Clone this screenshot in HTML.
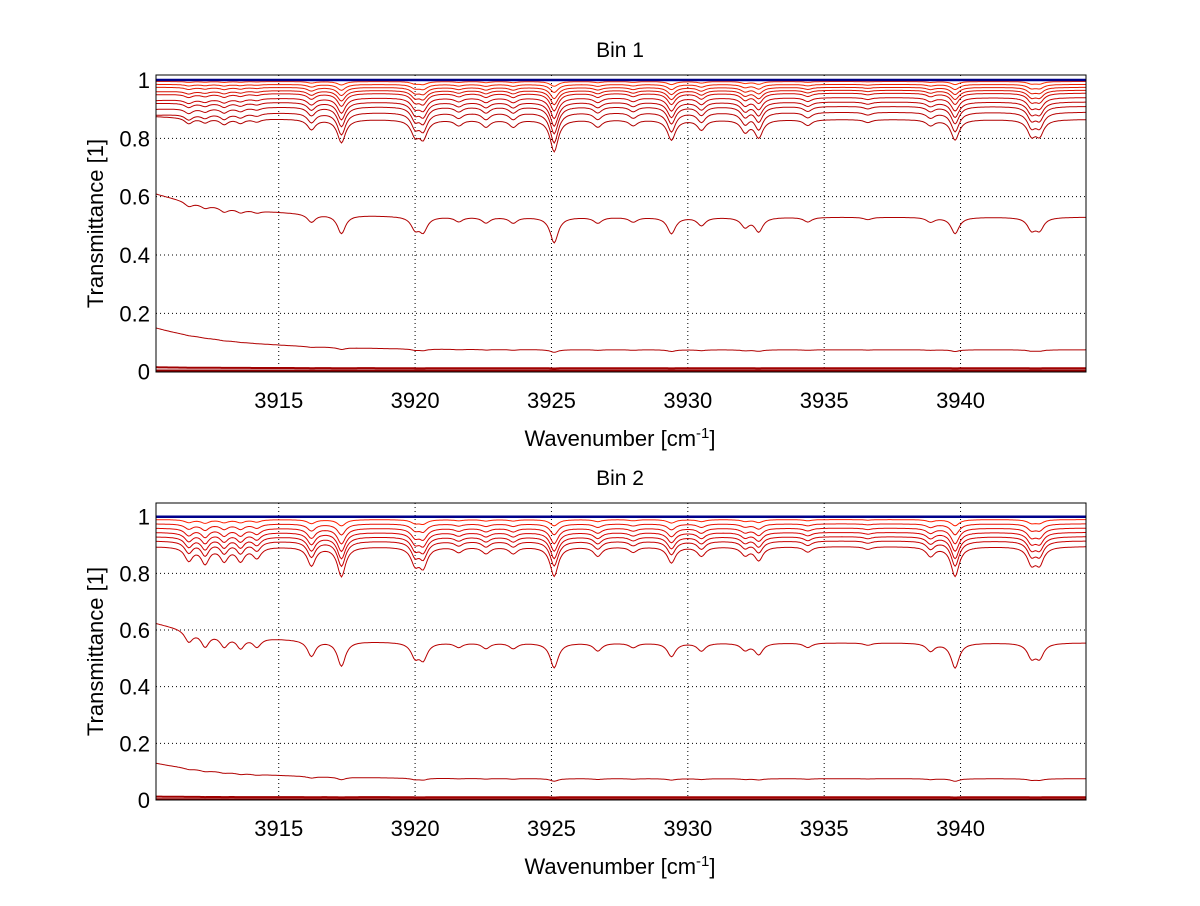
<!DOCTYPE html>
<html><head><meta charset="utf-8"><style>
html,body{margin:0;padding:0;background:#fff;}
svg text{font-family:"Liberation Sans",sans-serif;fill:#000;}
</style></head><body>
<svg id="fig" width="1200" height="901" viewBox="0 0 1200 901" xmlns="http://www.w3.org/2000/svg">
<rect width="1200" height="901" fill="#fff"/>
</svg>
<script>
// ---- data ----
const xTicks = [3915, 3920, 3925, 3930, 3935, 3940];
const yTicks = [0, 0.2, 0.4, 0.6, 0.8, 1];
const lineCenters = [3911.7,3912.3,3913.0,3913.6,3914.2,3916.2,3917.3,3920.0,3920.3,3921.6,3922.6,3923.6,3925.1,3926.7,3928.0,3929.4,3930.5,3932.1,3932.6,3934.4,3936.6,3938.9,3939.8,3942.6,3942.9];
const depthsBin1 = [0.02,0.015,0.02,0.015,0.01,0.035,0.08,0.05,0.06,0.02,0.025,0.025,0.11,0.025,0.02,0.07,0.035,0.04,0.06,0.02,0.01,0.02,0.07,0.05,0.05];
const depthsBin2 = [0.05,0.06,0.05,0.05,0.04,0.07,0.11,0.06,0.07,0.02,0.025,0.025,0.11,0.035,0.02,0.06,0.035,0.03,0.05,0.02,0.01,0.035,0.11,0.06,0.06];
// curves: steady level, level at left edge, absorption scale
const bin1Level = [0.995,0.985,0.975,0.965,0.955,0.94,0.925,0.91,0.89,0.865,0.53,0.075,0.012,0.004];
const bin1Start = [0.995,0.985,0.975,0.96,0.95,0.93,0.92,0.90,0.88,0.875,0.61,0.15,0.015,0.004];
const bin1Scale = [0.15,0.25,0.35,0.45,0.55,0.65,0.75,0.85,0.95,1.0,0.8,0.08,0.01,0.0];
const bin2Level = [0.99,0.975,0.96,0.945,0.93,0.915,0.895,0.555,0.075,0.01,0.003];
const bin2Start = [0.99,0.975,0.96,0.945,0.93,0.915,0.895,0.625,0.13,0.012,0.003];
const bin2Scale = [0.2,0.35,0.5,0.6,0.7,0.8,0.95,0.8,0.08,0.01,0.0];
const bin1Colors = ['#ff3000','#f02000','#e01800','#d81000','#d00800','#c80000','#c00000','#bb0000','#b80000','#b00000','#b00000','#b00000','#a00000','#900000'];
const bin2Colors = ['#ff2000','#e81000','#e00800','#d80000','#d00000','#c80000','#c00000','#b80000','#b00000','#a00000','#900000'];

const NS = 'http://www.w3.org/2000/svg';
const svg = document.getElementById('fig');
function el(tag, attrs, parent) {
  const e = document.createElementNS(NS, tag);
  for (const k in attrs) e.setAttribute(k, attrs[k]);
  (parent || svg).appendChild(e);
  return e;
}
const X0 = 3910.5, X1 = 3944.6, L = 156, R = 1086;
function makePanel(id, title, top, bottom, y0px, y1px, levels, starts, scales, depths, colors) {
  const g = el('g', {});
  
  
  const sx = v => L + (v - X0) / (X1 - X0) * (R - L);
  const sy = v => y0px + (y1px - y0px) * v;
  xTicks.forEach(t => {
    const l = el('line', {x1: sx(t), x2: sx(t), y1: top, y2: bottom, stroke: '#000', 'stroke-width': 1, 'stroke-dasharray': '1,3'}, g);
    
    
    const tx = el('text', {x: sx(t), y: bottom + 36, 'text-anchor': 'middle', 'font-size': 22}, g);
    tx.textContent = t;
    
    
  });
  yTicks.forEach(t => {
    if (t > 0 && t < 1) {
      const l = el('line', {x1: L, x2: R, y1: sy(t), y2: sy(t), stroke: '#000', 'stroke-width': 1, 'stroke-dasharray': '1,3'}, g);
      
      
    }
    const tx = el('text', {x: 150, y: sy(t) + 8, 'text-anchor': 'end', 'font-size': 22}, g);
    tx.textContent = t;
    
    
  });
  const cp = el('clipPath', {id: 'clip-' + id}, g);
  el('rect', {x: L, y: top, width: R - L, height: bottom - top}, cp);
  const cg = el('g', {'clip-path': 'url(#clip-' + id + ')'}, g);
  for (let c = levels.length - 1; c >= 0; c--) {
    let d = '';
    for (let x = X0; x <= X1 + 0.001; x += 0.05) {
      let v = levels[c] + (starts[c] - levels[c]) * Math.exp(-(x - X0) / 3);
      for (let i = 0; i < lineCenters.length; i++) {
        const u = (x - lineCenters[i]) / 0.18;
        v -= scales[c] * depths[i] / (1 + u * u);
      }
      d += (d ? 'L' : 'M') + sx(x).toFixed(1) + ',' + sy(v).toFixed(1);
    }
    const p = el('path', {d: d, fill: 'none', stroke: colors[c], 'stroke-width': c >= levels.length - 2 ? 2 : 1}, cg);
    
    
  }
  const top1 = el('line', {x1: L, x2: R, y1: sy(1), y2: sy(1), stroke: '#00008b', 'stroke-width': 2.5}, cg);
  
  
  const box = el('rect', {x: L, y: top, width: R - L, height: bottom - top, fill: 'none', stroke: '#000', 'stroke-width': 1}, g);
  
  
  const tt = el('text', {x: 620, y: top - 18, 'text-anchor': 'middle', 'font-size': 21}, g);
  tt.textContent = title;
  
  
  const yl = el('text', {x: 0, y: 0, 'text-anchor': 'middle', 'font-size': 22, transform: 'translate(103,' + ((top + bottom) / 2) + ') rotate(-90)'}, g);
  yl.textContent = 'Transmittance [1]';
  
  
  const xl = el('text', {x: 620, y: bottom + 74, 'text-anchor': 'middle', 'font-size': 22}, g);
  xl.innerHTML = 'Wavenumber [cm<tspan dy="-8" font-size="15">-1</tspan><tspan dy="8">]</tspan>';
  
  
}
makePanel('bin1-chart', 'Bin 1', 75, 372, 371.7, 80, bin1Level, bin1Start, bin1Scale, depthsBin1, bin1Colors);
makePanel('bin2-chart', 'Bin 2', 503, 800, 800, 516.7, bin2Level, bin2Start, bin2Scale, depthsBin2, bin2Colors);
</script>
</body></html>
